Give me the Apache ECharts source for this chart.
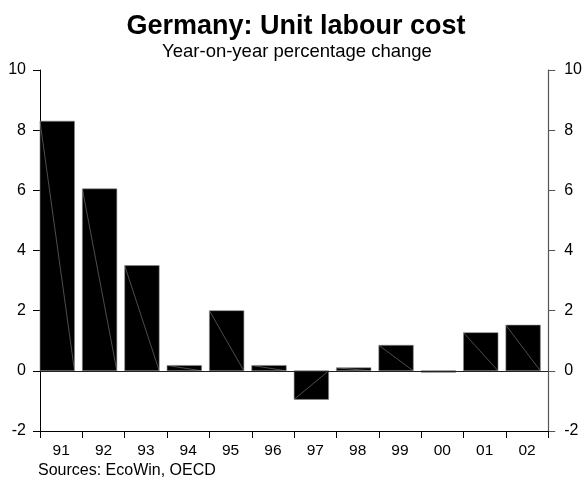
<!DOCTYPE html>
<html>
<head>
<meta charset="utf-8">
<script src="https://cdn.jsdelivr.net/npm/echarts@6/dist/echarts.min.js"></script>
<style>
html,body{margin:0;padding:0;background:#fff;}
#chart{width:585px;height:479px;}
</style>
</head>
<body>
<div id="chart"></div>
<script>
var categories = ['91','92','93','94','95','96','97','98','99','00','01','02'];
var values = [8.3, 6.05, 3.5, 0.18, 2.0, 0.18, -0.95, 0.1, 0.85, -0.05, 1.27, 1.52];
var yTicks = [-2, 0, 2, 4, 6, 8, 10];
var titleText = 'Germany: Unit labour cost';
var subtitleText = 'Year-on-year percentage change';
var sourceText = 'Sources: EcoWin, OECD';

var FONT = '"Liberation Sans", Arial, sans-serif';
var chart = echarts.init(document.getElementById('chart'), null, {renderer: 'canvas'});

function renderBar(params, api) {
  var idx = api.value(0);
  var v = api.value(1);
  var center = api.coord([idx, 0]);
  var band = api.size([1, 0])[0];
  var left = center[0] - band / 2;
  var w = band * 0.815;
  var y0 = center[1];
  var yv = api.coord([idx, v])[1];
  var top = Math.min(y0, yv);
  var h = Math.abs(y0 - yv);
  return {
    type: 'group',
    children: [
      {type: 'rect', shape: {x: left, y: top, width: w, height: h},
       style: {fill: '#000', stroke: '#8a8a8a', lineWidth: 0.6}},
      {type: 'line', shape: {x1: left, y1: yv, x2: left + w, y2: y0},
       style: {stroke: '#9a9a9a', lineWidth: 0.5}}
    ]
  };
}

var option = {
  backgroundColor: '#fff',
  animation: false,
  grid: {left: 40, right: 30, top: 70, bottom: 48, containLabel: false},
  xAxis: {
    type: 'category',
    data: categories,
    boundaryGap: true,
    axisLine: {show: true, onZero: false, lineStyle: {color: '#000', width: 1}},
    axisTick: {show: true, length: 7, lineStyle: {color: '#000'}},
    axisLabel: {color: '#000', fontFamily: FONT, fontSize: 15.5, margin: 12},
    splitLine: {show: false}
  },
  yAxis: [
    {
      type: 'value', position: 'left', min: -2, max: 10, interval: 2,
      axisLine: {show: true, lineStyle: {color: '#000', width: 1}},
      axisTick: {show: true, length: 7, lineStyle: {color: '#000'}},
      axisLabel: {color: '#000', fontFamily: FONT, fontSize: 16, margin: 14,
        formatter: function (v) { return yTicks.indexOf(v) >= 0 ? String(v) : ''; }},
      splitLine: {show: false}
    },
    {
      type: 'value', position: 'right', min: -2, max: 10, interval: 2,
      axisLine: {show: true, lineStyle: {color: '#555', width: 1.2}},
      axisTick: {show: true, length: 7, lineStyle: {color: '#555'}},
      axisLabel: {color: '#000', fontFamily: FONT, fontSize: 16, margin: 16,
        formatter: function (v) { return yTicks.indexOf(v) >= 0 ? String(v) : ''; }},
      splitLine: {show: false}
    }
  ],
  series: [{
    type: 'custom',
    renderItem: renderBar,
    encode: {x: 0, y: 1},
    data: values.map(function (v, i) { return [i, v]; }),
    markLine: {
      silent: true, symbol: 'none', label: {show: false},
      lineStyle: {color: '#222', width: 1.2, type: 'solid'},
      data: [{yAxis: 0}]
    },
    z: 2
  }],
  graphic: [
    {type: 'text', x: 296, y: 27, style: {text: titleText, font: 'bold 27px ' + FONT, fill: '#000', align: 'center', verticalAlign: 'middle'}},
    {type: 'text', x: 297, y: 52, style: {text: subtitleText, font: '18.5px ' + FONT, fill: '#000', align: 'center', verticalAlign: 'middle'}},
    {type: 'text', x: 38, y: 471, style: {text: sourceText, font: '16px ' + FONT, fill: '#000', align: 'left', verticalAlign: 'middle'}}
  ]
};
chart.setOption(option);
</script>
</body>
</html>
